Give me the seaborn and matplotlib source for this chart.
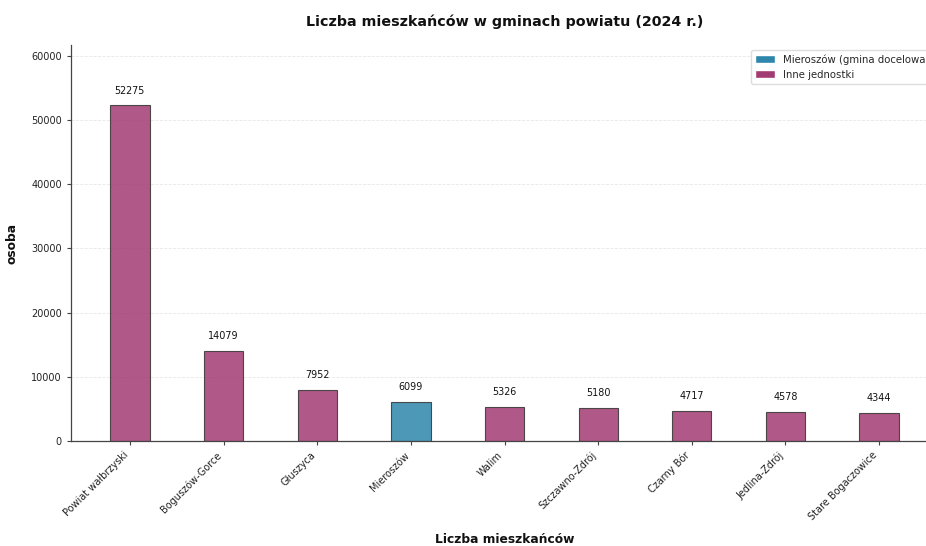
import matplotlib
matplotlib.use("Agg")
import matplotlib.pyplot as plt
from matplotlib.patches import Patch
import seaborn as sns
import pandas as pd

categories = ["Powiat wałbrzyski", "Boguszów-Gorce", "Głuszyca", "Mieroszów", "Walim",
              "Szczawno-Zdrój", "Czarny Bór", "Jedlina-Zdrój", "Stare Bogaczowice"]
values = [52275, 14079, 7952, 6099, 5326, 5180, 4717, 4578, 4344]
target = "Mieroszów"
label_target = "Mieroszów (gmina docelowa)"
label_other = "Inne jednostki"
color_target = "#2E86AB"
color_other = "#A23B72"

df = pd.DataFrame({"gmina": categories, "osoba": values})
df["grupa"] = [label_target if c == target else label_other for c in categories]

sns.set_style("white")
plt.rcParams["font.family"] = ["DejaVu Sans"]

fig = plt.figure(figsize=(9.26, 5.46), dpi=100)
ax = fig.add_axes([71/926, 105/546, 868/926, 396/546])

sns.barplot(data=df, x="gmina", y="osoba", hue="grupa",
            hue_order=[label_target, label_other],
            palette={label_target: color_target, label_other: color_other},
            dodge=False, width=0.42, alpha=0.85, saturation=1,
            edgecolor="#333333", linewidth=0.8, legend=False, ax=ax)

for i, v in enumerate(values):
    ax.annotate(f"{v}", xy=(i, v), xytext=(0, 7), textcoords="offset points",
                ha="center", va="bottom", fontsize=6.9, color="#111111")

ax.set_xlim(-0.63, 8.64)
ax.set_ylim(0, max(values) * 1.18)
ax.set_yticks([0, 10000, 20000, 30000, 40000, 50000, 60000])
ax.yaxis.grid(True, linestyle="--", linewidth=0.6, alpha=0.35, color="#bbbbbb")
ax.set_axisbelow(True)
sns.despine(ax=ax)
for s in ["left", "bottom"]:
    ax.spines[s].set_color("#444444")
    ax.spines[s].set_linewidth(0.9)

ax.tick_params(axis="both", labelsize=7, length=3, width=0.8, color="#444444", labelcolor="#222222")
ax.tick_params(axis="x", bottom=True)
ax.tick_params(axis="y", left=True)
plt.setp(ax.get_xticklabels(), rotation=45, ha="right")

ax.set_title("Liczba mieszkańców w gminach powiatu (2024 r.)", fontsize=10.3,
             fontweight="bold", pad=14, color="#111111")
ax.set_xlabel("Liczba mieszkańców", fontsize=8.8, fontweight="bold", labelpad=8, color="#111111")
ax.set_ylabel("osoba", fontsize=8.8, fontweight="bold", labelpad=9, color="#111111")

handles = [Patch(facecolor=color_target, label=label_target),
           Patch(facecolor=color_other, label=label_other)]
ax.legend(handles=handles, loc="upper right", fontsize=7.3, frameon=True,
          edgecolor="#dddddd", framealpha=1.0, handlelength=2.0, handleheight=0.9)

fig.savefig("out.png", dpi=100)
